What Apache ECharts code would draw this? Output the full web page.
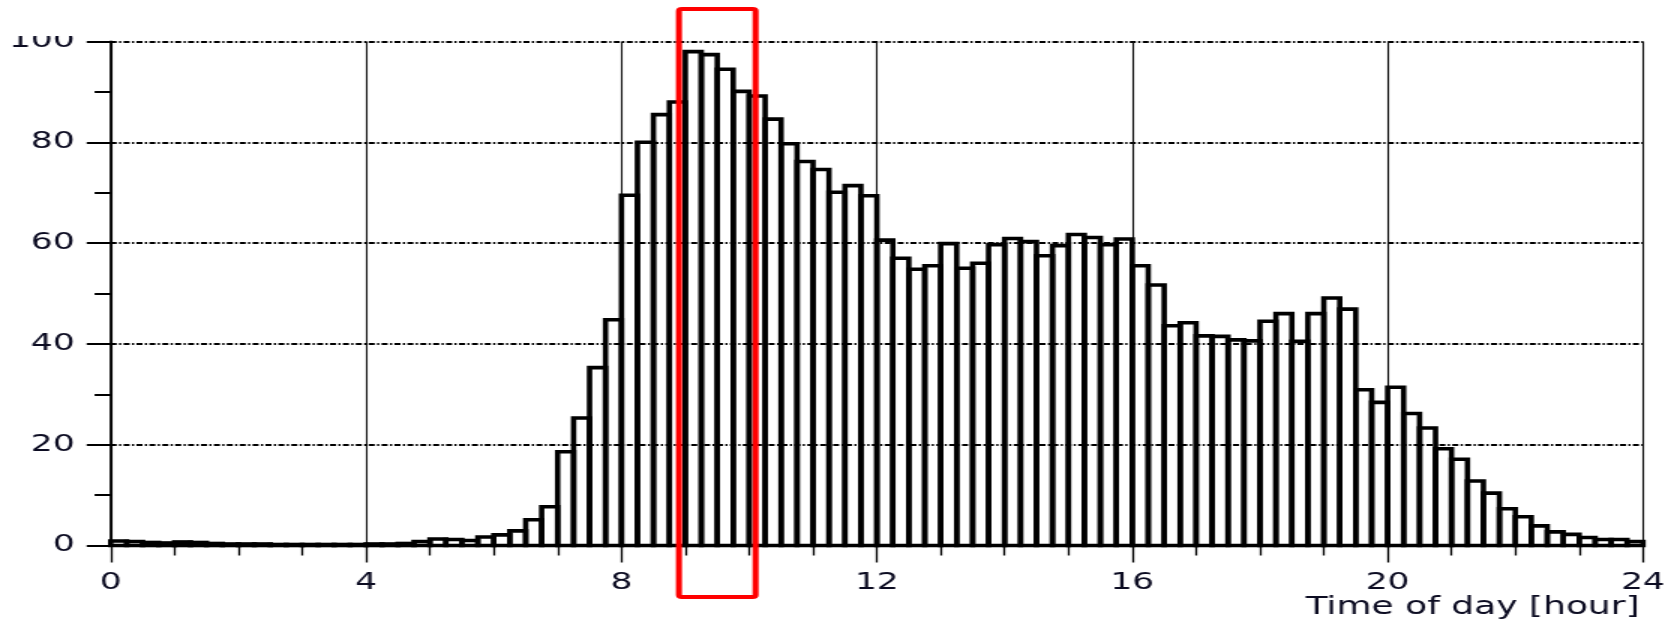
<!DOCTYPE html>
<html>
<head>
<meta charset="utf-8">
<title>Time of day histogram</title>
<script src="https://cdn.jsdelivr.net/npm/echarts@6/dist/echarts.min.js"></script>
<style>
  html, body { margin: 0; padding: 0; background: #fff; overflow: hidden; }
  #wrap { width: 1670px; height: 621px; overflow: hidden; position: relative; }
  #chart { position: absolute; left: 0; top: 0; height: 621px; transform-origin: 0 0; }
</style>
</head>
<body>
<div id="wrap"><div id="chart"></div></div>
<script>
// Horizontal stretch of the whole figure (text and strokes get wider, not taller)
const STRETCH = 1.5;
const PAGE_W = 1670;

// Histogram: one bin every quarter hour, 0h .. 24h
const binWidth = 0.25;
const counts = [
  0.9, 0.8, 0.6, 0.5, 0.7, 0.6, 0.4, 0.3,      // 0:00 - 1:45
  0.3, 0.3, 0.2, 0.2, 0.2, 0.2, 0.2, 0.2,      // 2:00 - 3:45
  0.3, 0.3, 0.4, 0.8, 1.3, 1.2, 1.0, 1.7,      // 4:00 - 5:45
  2.1, 2.9, 5.1, 7.7, 18.6, 25.3, 35.3, 44.8,  // 6:00 - 7:45
  69.5, 80.0, 85.5, 88.0, 98.0, 97.4, 94.5, 90.1, // 8:00 - 9:45
  89.2, 84.6, 79.7, 76.2, 74.6, 70.1, 71.4, 69.4, // 10:00 - 11:45
  60.6, 57.0, 54.8, 55.5, 59.9, 55.0, 56.0, 59.7, // 12:00 - 13:45
  60.9, 60.3, 57.5, 59.5, 61.7, 61.1, 59.7, 60.8, // 14:00 - 15:45
  55.5, 51.7, 43.6, 44.2, 41.6, 41.5, 40.8, 40.6, // 16:00 - 17:45
  44.5, 46.0, 40.5, 46.0, 49.1, 46.9, 30.9, 28.4, // 18:00 - 19:45
  31.4, 26.2, 23.3, 19.2, 17.1, 12.8, 10.4, 7.3,  // 20:00 - 21:45
  5.7, 3.9, 2.7, 2.2, 1.6, 1.2, 1.2, 0.8          // 22:00 - 23:45
];
const binStarts = counts.map((_, i) => i * binWidth);

const xTicks = [0, 4, 8, 12, 16, 20, 24];
const yTicks = [0, 20, 40, 60, 80, 100];
const xTitle = 'Time of day [hour]';

// Highlighted window (hours)
const highlight = { from: 8.9, to: 10.1 };

const FONT = 'DejaVu Sans';
const TEXT = '#0c0c22';
const W = PAGE_W / STRETCH;
const el = document.getElementById('chart');
el.style.width = W + 'px';
el.style.transform = 'scaleX(' + STRETCH + ')';

const chart = echarts.init(el, null, { renderer: 'canvas' });

const gridDash = [4, 1.6, 1.4, 1.6];

chart.setOption({
  animation: false,
  backgroundColor: '#fff',
  grid: { left: 73.8, right: W - 1097.8, top: 41.5, bottom: 75.5 },
  xAxis: {
    type: 'value',
    min: xTicks[0],
    max: xTicks[xTicks.length - 1],
    interval: xTicks[1] - xTicks[0],
    axisLine: { show: true, onZero: false, lineStyle: { color: '#000', width: 2.5 } },
    axisTick: { show: true, length: 17, lineStyle: { color: '#000', width: 1.3 } },
    minorTick: { show: true, splitNumber: 4, length: 10, lineStyle: { color: '#000', width: 1.3 } },
    axisLabel: {
      color: TEXT, fontFamily: FONT, fontSize: 23, margin: 26,
      formatter: v => String(v)
    },
    splitLine: { show: true, lineStyle: { color: '#111', width: 1.1, type: 'solid' } }
  },
  yAxis: {
    type: 'value',
    min: yTicks[0],
    max: yTicks[yTicks.length - 1],
    interval: yTicks[1] - yTicks[0],
    axisLine: { show: true, lineStyle: { color: '#000', width: 1.8 } },
    axisTick: { show: true, length: 16, lineStyle: { color: '#000', width: 2 } },
    minorTick: { show: true, splitNumber: 2, length: 10.7, lineStyle: { color: '#000', width: 2 } },
    axisLabel: { color: TEXT, fontFamily: FONT, fontSize: 23, margin: 24 },
    splitLine: { show: true, lineStyle: { color: '#000', width: 2, type: gridDash } }
  },
  series: [{
    type: 'custom',
    data: binStarts.map((x, i) => [x, counts[i]]),
    encode: { x: 0, y: 1 },
    clip: false,
    z: 5,
    renderItem(params, api) {
      const x0 = api.value(0);
      const h = api.value(1);
      const p0 = api.coord([x0, 0]);
      const p1 = api.coord([x0 + binWidth, h]);
      return {
        type: 'rect',
        shape: { x: p0[0], y: p1[1], width: p1[0] - p0[0], height: p0[1] - p1[1] },
        style: { fill: 'none', stroke: '#000', lineWidth: 3.6 }
      };
    }
  }]
});

// Axis title, highlight box and the trimmed top edge of the figure
const xa = chart.convertToPixel({ xAxisIndex: 0 }, highlight.from);
const xb = chart.convertToPixel({ xAxisIndex: 0 }, highlight.to);
chart.setOption({
  graphic: [
    {
      type: 'rect', left: 0, top: 0, z: 50,
      shape: { width: 66, height: 36 },
      style: { fill: '#fff' }
    },
    {
      type: 'text', right: 20, bottom: 1, z: 60,
      style: { text: xTitle, font: '24px "' + FONT + '"', fill: TEXT }
    },
    {
      type: 'rect', z: 70,
      shape: { x: xa, y: 9, width: xb - xa, height: 588, r: 2 },
      style: { fill: 'none', stroke: '#ff0000', lineWidth: 4 }
    }
  ]
});
</script>
</body>
</html>
